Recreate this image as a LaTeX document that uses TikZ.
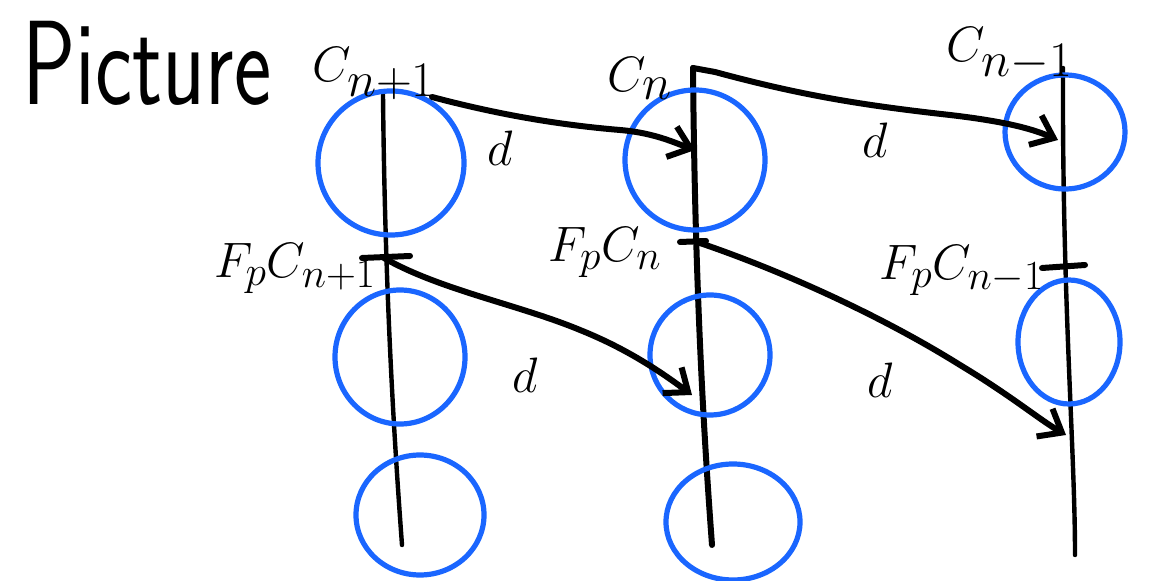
\documentclass[tikz,border=0pt]{standalone}
\usetikzlibrary{shapes.geometric,arrows.meta}
\begin{document}
\begin{tikzpicture}[x=0.5pt,y=-0.5pt,
  ink/.style={line width=3pt,line cap=round,line join=round,black},
  thinink/.style={line width=2.2pt,line cap=round,black},
  loop/.style={ellipse,draw=blue!75!cyan!90!black,line width=2.6pt,inner sep=0pt},
  arr/.style={ink,-{Straight Barb[length=10pt,width=16pt,line width=3pt]}},
  lab/.style={inner sep=0pt,anchor=base},
  dlab/.style={inner sep=0pt,font=\fontsize{34}{36}\selectfont}]
\useasboundingbox (0,0) rectangle (1160,581);
\definecolor{pen}{RGB}{26,102,255}
\tikzset{loop/.append style={draw=pen}}
% title
\node[lab,anchor=base west,font=\fontsize{60}{62}\selectfont\sffamily] (title) at (22,105) {\scalebox{0.74}[1]{Picture}};
% columns
\coordinate (t1) at (383,95);  \coordinate (b1) at (402,545);
\coordinate (t2) at (693,68);  \coordinate (b2) at (712,545);
\coordinate (t3) at (1063,68); \coordinate (b3) at (1075,555);
\draw[thinink] (t1) .. controls (385,300) and (395,450) .. (b1);
\draw[ink] (t2) .. controls (695,300) and (705,450) .. (b2);
\draw[thinink] (t3) .. controls (1062,300) and (1075,450) .. (b3);
% ticks (filtration levels)
\coordinate (f1) at (384,258); \coordinate (f2) at (697,242); \coordinate (f3) at (1066,266);
\draw[ink] (362,258) -- (410,256);
\draw[ink] (680,242) -- (706,241);
\draw[ink] (1042,268) -- (1085,265);
% circles
\node[loop,minimum width=73pt,minimum height=72pt] (c11) at (391,163) {};
\node[loop,minimum width=65pt,minimum height=67pt] (c12) at (400,357) {};
\node[loop,minimum width=64pt,minimum height=60pt] (c13) at (420,515) {};
\node[loop,minimum width=70pt,minimum height=70pt] (c21) at (695,160) {};
\node[loop,minimum width=60pt,minimum height=60pt] (c22) at (710,355) {};
\node[loop,minimum width=67pt,minimum height=58pt] (c23) at (733,522) {};
\node[loop,minimum width=60pt,minimum height=57pt] (c31) at (1065,132) {};
\node[loop,minimum width=51pt,minimum height=62pt] (c32) at (1069,342) {};
% column labels
\node[lab,font=\fontsize{42}{44}\selectfont] (lC1) at (374,82) {$C_{n+1}$};
\node[lab,font=\fontsize{42}{44}\selectfont] (lC2) at (640,92) {$C_{n}$};
\node[lab,font=\fontsize{42}{44}\selectfont] (lC3) at (1010,62) {$C_{n-1}$};
\node[lab,font=\fontsize{30}{32}\selectfont] (lF1) at (295,278) {$F_pC_{n+1}$};
\node[lab,font=\fontsize{30}{32}\selectfont] (lF2) at (605,262) {$F_pC_{n}$};
\node[lab,font=\fontsize{30}{32}\selectfont] (lF3) at (962,280) {$F_pC_{n-1}$};
% differentials
\coordinate (s1) at (432,97);
\coordinate (h1) at (695,150);
\draw[arr] (s1) .. controls (500,115) and (560,125) .. (620,130) .. controls (655,133) and (675,143) .. (h1);
\coordinate (h2) at (1058,140);
\draw[arr] (t2) -- (715,72) .. controls (800,95) and (860,105) .. (950,115) .. controls (1010,122) and (1035,130) .. (h2);
\coordinate (h3) at (692,395);
\draw[arr] (f1) .. controls (440,290) and (520,305) .. (580,330) .. controls (630,350) and (665,375) .. (h3);
\coordinate (h4) at (1066,435);
\draw[arr] (f2) .. controls (780,270) and (880,315) .. (960,365) .. controls (1010,395) and (1040,420) .. (h4);
\node[dlab] (d1) at (500,148) {$d$};
\node[dlab] (d2) at (875,140) {$d$};
\node[dlab] (d3) at (525,375) {$d$};
\node[dlab] (d4) at (880,380) {$d$};
\end{tikzpicture}
\end{document}
